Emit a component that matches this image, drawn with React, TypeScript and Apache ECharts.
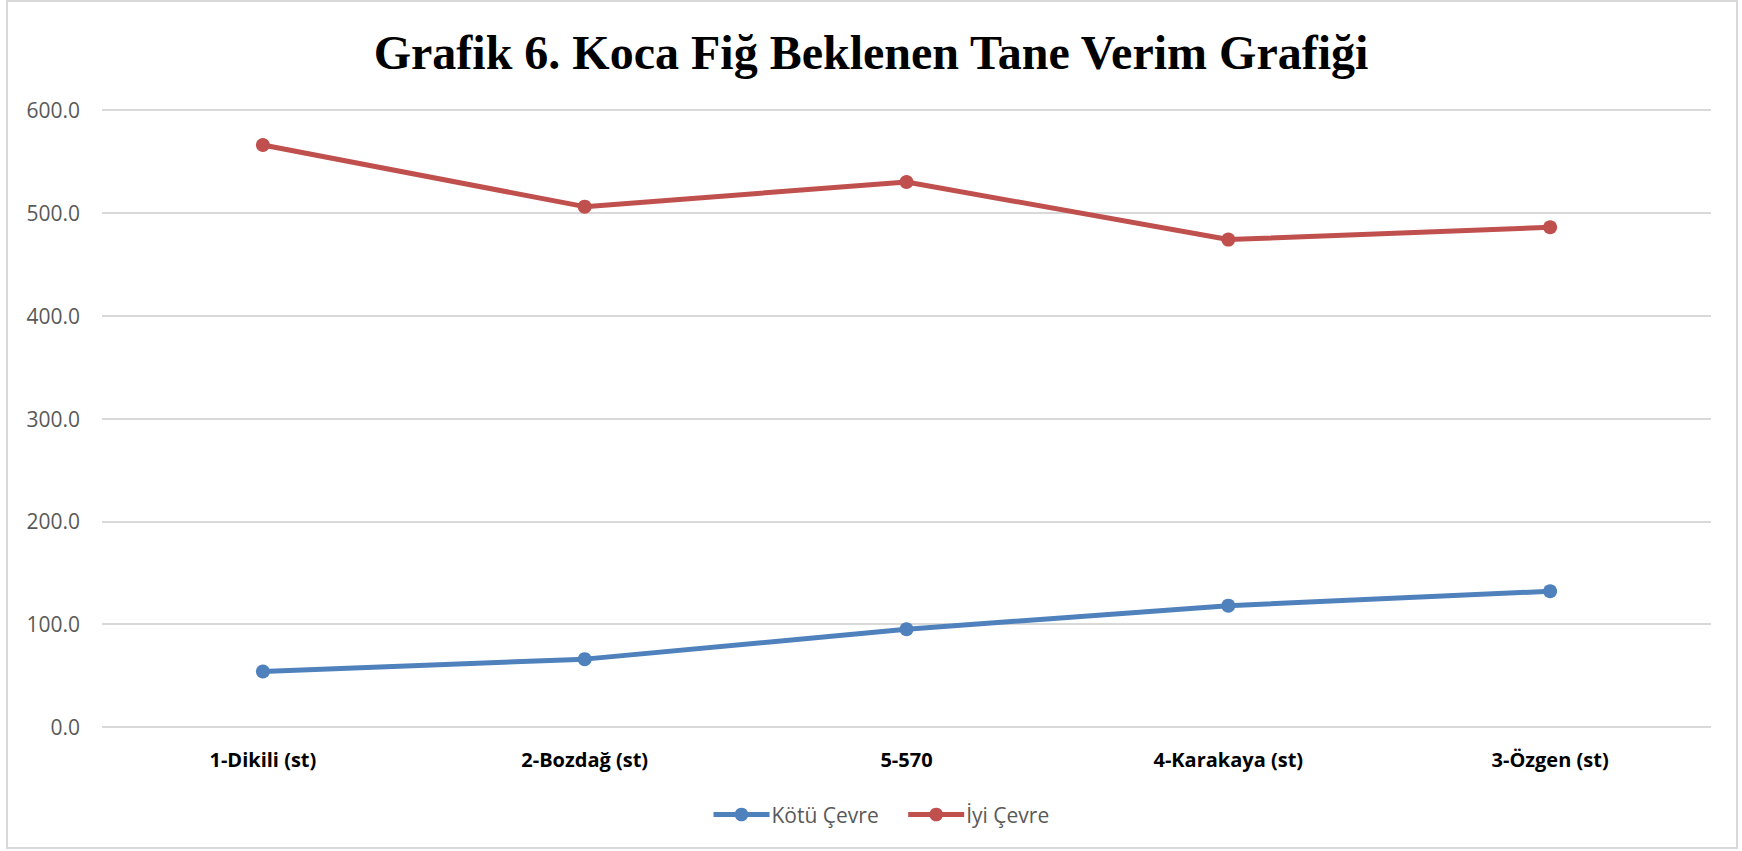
import React, { useEffect, useRef } from "react";
import * as echarts from "echarts";

const titleText = "Grafik 6. Koca Fiğ Beklenen Tane Verim Grafiği";
const categories = ["1-Dikili (st)", "2-Bozdağ (st)", "5-570", "4-Karakaya (st)", "3-Özgen (st)"];
const kotuCevre = [54, 66, 95, 118, 132];
const iyiCevre = [566, 506, 530, 474, 486];
const seriesNames = ["Kötü Çevre", "İyi Çevre"];
const yMin = 0;
const yMax = 600;
const yInterval = 100;

export default function App() {
  const ref = useRef<HTMLDivElement>(null);

  useEffect(() => {
    document.body.style.margin = "0";
    const chart = echarts.init(ref.current!, null, { renderer: "svg" });
    const option: any = {
      animation: false,
      backgroundColor: "#ffffff",
      title: {
        text: titleText,
        left: "center",
        top: 23,
        textStyle: {
          fontFamily: "Liberation Serif",
          fontWeight: "bold",
          fontSize: 48,
          color: "#000000",
        },
      },
      graphic: [
        {
          type: "rect",
          shape: { x: 7, y: 1, width: 1730, height: 847 },
          style: { fill: "none", stroke: "#d9d9d9", lineWidth: 2 },
          silent: true,
          z: -1,
        },
      ],
      legend: {
        data: seriesNames,
        left: 706,
        top: 799,
        itemWidth: 56,
        itemHeight: 17,
        itemGap: 27,
        lineStyle: { width: 5 },
        textStyle: { fontFamily: "Open Sans", fontSize: 21, color: "#595959", padding: [0, 0, 0, -3] },
      },
      grid: { left: 102, right: 31, top: 110, bottom: 124, containLabel: false },
      xAxis: {
        type: "category",
        data: categories,
        boundaryGap: true,
        axisLine: { show: false },
        axisTick: { show: false },
        axisLabel: {
          fontFamily: "Open Sans",
          fontWeight: "bold",
          fontSize: 20,
          color: "#000000",
          margin: 22,
        },
      },
      yAxis: {
        type: "value",
        min: yMin,
        max: yMax,
        interval: yInterval,
        axisLine: { show: false },
        axisTick: { show: false },
        splitLine: { lineStyle: { color: "#d9d9d9", width: 2 } },
        axisLabel: {
          fontFamily: "Open Sans",
          fontSize: 21,
          color: "#595959",
          margin: 22,
          formatter: (v: number) => v.toFixed(1),
        },
      },
      series: [
        {
          name: seriesNames[0],
          type: "line",
          data: kotuCevre,
          symbol: "circle",
          symbolSize: 14,
          lineStyle: { color: "#4F81BD", width: 5 },
          itemStyle: { color: "#4F81BD" },
        },
        {
          name: seriesNames[1],
          type: "line",
          data: iyiCevre,
          symbol: "circle",
          symbolSize: 14,
          lineStyle: { color: "#C0504D", width: 5 },
          itemStyle: { color: "#C0504D" },
        },
      ],
    };
    chart.setOption(option);
    return () => chart.dispose();
  }, []);

  return (
    <div
      ref={ref}
      style={{ position: "absolute", left: 0, top: 0, width: 1742, height: 851 }}
    />
  );
}
